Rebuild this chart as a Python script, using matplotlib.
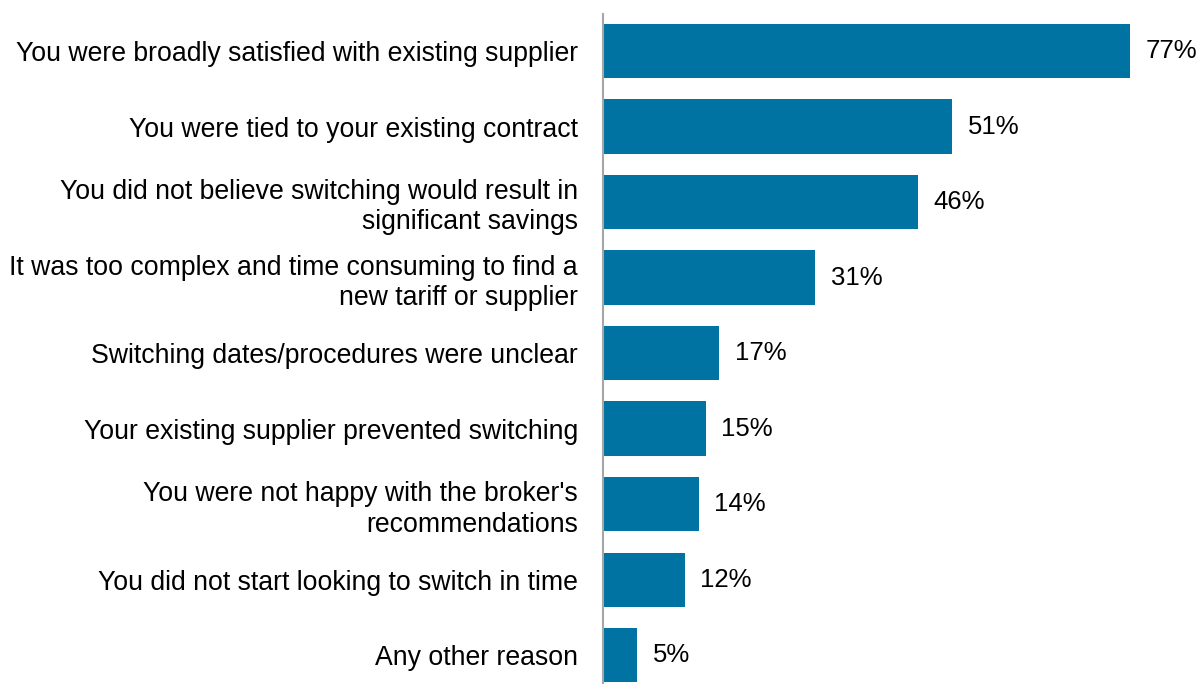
import matplotlib
matplotlib.use("Agg")
from matplotlib import pyplot as plt

# data
categories = [
    "You were broadly satisfied with existing supplier",
    "You were tied to your existing contract",
    "You did not believe switching would result in\nsignificant savings",
    "It was too complex and time consuming to find a\nnew tariff or supplier",
    "Switching dates/procedures were unclear",
    "Your existing supplier prevented switching",
    "You were not happy with the broker's\nrecommendations",
    "You did not start looking to switch in time",
    "Any other reason",
]
values = [77, 51, 46, 31, 17, 15, 14, 12, 5]

BAR_COLOR = "#0073A2"

plt.rcParams["font.family"] = ["Liberation Sans", "DejaVu Sans"]

fig = plt.figure(figsize=(12.01, 6.84), dpi=100)
ax = fig.add_axes([603 / 1201, 0, 1 - 603 / 1201, 1 - 14 / 684])

ypos = list(range(len(categories)))
ax.barh(ypos, values, height=0.72, color=BAR_COLOR)

for y, v in zip(ypos, values):
    ax.annotate(f"{v}%", (v, y), xytext=(11, 0), textcoords="offset points",
                va="center", ha="left", fontsize=18.5)

ax.set_yticks(ypos)
ax.set_yticklabels(categories, fontsize=19.2, linespacing=1.22)
ax.tick_params(axis="y", length=0, pad=18)
ax.set_xticks([])
ax.set_xlim(0, 87.3)
ax.set_ylim(8.38, -0.49)

for side in ["top", "right", "bottom"]:
    ax.spines[side].set_visible(False)
ax.spines["left"].set_color("#A6A6A6")
ax.spines["left"].set_linewidth(1.5)

fig.savefig("out.png", dpi=100)
